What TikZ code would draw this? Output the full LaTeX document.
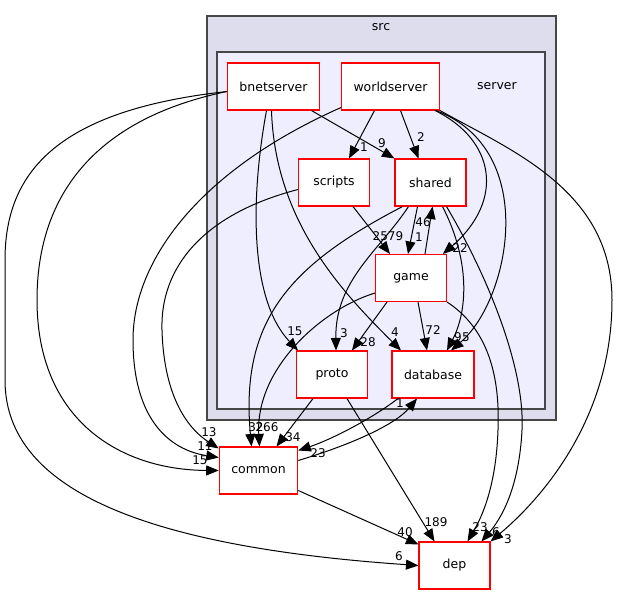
\documentclass[tikz,border=0pt]{standalone}
\usepackage{fontspec}
\setmainfont{DejaVu Sans}
\usepackage{tikz}
\usepackage{xcolor}
\definecolor{srcfill}{HTML}{DDDDEE}
\definecolor{serverfill}{HTML}{EEEEFF}
\definecolor{boxred}{HTML}{FF0000}
\usetikzlibrary{arrows.meta}
\tikzset{>={Triangle[length=12.5pt,width=10pt]}}
\tikzset{
  dirbox/.style={
    draw=boxred, fill=white, line width=1.1pt,
    minimum width=71pt, minimum height=47pt, inner xsep=12pt,
    font=\fontsize{12.5}{15}\selectfont
  }}
\tikzset{
  cluster/.style={
    draw=black!72, line width=1.1pt
  }}
\tikzset{
  clustertitle/.style={
    inner sep=0pt, font=\fontsize{12.5}{15}\selectfont
  }}
\tikzset{uses/.style={->, line width=1pt}}
\tikzset{count/.style={inner sep=0pt, font=\fontsize{12}{14}\selectfont}}

\begin{document}
\begin{tikzpicture}[x=1pt,y=-1pt]
    \useasboundingbox (0,0) rectangle (619,596);
    \draw[cluster,fill=srcfill] (207,16) rectangle (556,420);
    \node[clustertitle] (srctitle) at (381,27) {src};
    \draw[cluster,fill=serverfill] (217,52) rectangle (545,409);
    \node[clustertitle] (servertitle) at (497,86) {server};

    \node[dirbox] (bnet) at (273.5,86.5) {bnetserver};
    \node[dirbox] (world) at (390.5,86.5) {worldserver};
    \node[dirbox] (scripts) at (334,182.5) {scripts};
    \node[dirbox] (shared) at (430.5,182.5) {shared};
    \node[dirbox] (game) at (411,278) {game};
    \node[dirbox] (proto) at (332,374.5) {proto};
    \node[dirbox] (database) at (433,374.5) {database};
    \node[dirbox] (common) at (258.5,470.5) {common};
    \node[dirbox] (dep) at (454.5,565.5) {dep};

    \draw[uses] ([xshift=-16]world.south) -- ([xshift=15]scripts.north)
        node[count] (lws) at (364,147) {1};
    \draw[uses] ([xshift=38]bnet.south) -- (shared.north west)
        node[count] (lbsh) at (382,143) {9};
    \draw[uses] ([xshift=10]world.south) -- ([xshift=-12]shared.north)
        node[count] (lwsh) at (421,137) {2};
    \draw[uses] ([xshift=19]scripts.south) -- ([xshift=-21]game.north)
        node[count] (lsg) at (388,236) {2579};
    \draw[uses] ([xshift=-13]shared.south) -- ([xshift=-3]game.north)
        node[count] (lshg) at (419,237) {1};
    \draw[uses] ([xshift=14]game.north) -- ([xshift=2]shared.south)
        node[count] (lgsh) at (423,222) {46};
    \draw[uses] ([xshift=-5]world.south east) .. controls (495,140) and (505,200) .. ([xshift=32]game.north)
        node[count] (lwg) at (460,248) {22};

    \draw[uses] ([xshift=7]game.south) -- ([xshift=-6]database.north)
        node[count] (lgd) at (433,330) {72};
    \draw[uses] ([xshift=12]shared.south) .. controls (470,260) and (468,310) .. ([xshift=14]database.north)
        node[count] (lshd) at (458,337) {9};
    \draw[uses] ([xshift=-4]world.south east) .. controls (540,150) and (510,300) .. ([xshift=18]database.north)
        node[count] (lwd) at (466,337) {5};
    \draw[uses] ([xshift=-2]bnet.south) .. controls (275,220) and (340,290) .. ([xshift=-32]database.north)
        node[count] (lbd) at (395,332) {4};

    \draw[uses] ([xshift=-7]bnet.south) .. controls (250,200) and (250,300) .. ([xshift=-34]proto.north)
        node[count] (lbp) at (295,331) {15};
    \draw[uses] ([xshift=-22]shared.south) .. controls (380,250) and (335,280) .. ([xshift=4]proto.north)
        node[count] (lshp) at (344,333) {3};
    \draw[uses] ([xshift=-24]game.south) -- ([xshift=20]proto.north)
        node[count] (lgp) at (368,342) {28};

    \draw[uses] ([xshift=-28]shared.south) .. controls (290,265) and (240,320) .. ([xshift=-7]common.north)
        node[count] (lshc) at (256,427) {32};
    \draw[uses] ([yshift=-15]game.west) .. controls (320,310) and (255,370) .. ([xshift=1]common.north)
        node[count] (lgc) at (267,427) {266};
    \draw[uses] ([xshift=-19]proto.south) -- ([xshift=18]common.north)
        node[count] (lpc) at (293,437) {34};
    \draw[uses] ([xshift=-35]database.south) .. controls (370,420) and (330,440) .. ([yshift=20]common.east)
        node[count] (ldc) at (318,453) {23};
    \draw[uses] ([yshift=10]common.east) .. controls (350,445) and (395,425) .. ([xshift=-16]database.south)
        node[count] (lcd) at (400,403) {1};
    \draw[uses] ([yshift=-5]bnet.west) .. controls (90,120) and (37,200) .. (37,300)
        .. controls (37,420) and (120,470) .. (common.west)
        node[count] (lbc) at (200,460) {15};
    \draw[uses] ([yshift=3]world.south west) .. controls (200,170) and (133,260) .. (133,340)
        .. controls (133,420) and (170,450) .. ([yshift=13]common.west)
        node[count] (lwc) at (205,446) {11};
    \draw[uses] ([yshift=-7]scripts.west) .. controls (200,215) and (160,270) .. (162,330)
        .. controls (164,400) and (190,430) .. ([yshift=-2]common.north west)
        node[count] (lsc) at (209,432) {13};

    \draw[uses] ([xshift=15]proto.south) -- ([xshift=-20]dep.north)
        node[count] (lpdep) at (436,522) {189};
    \draw[uses] ([yshift=-20]common.east) -- ([yshift=-3]dep.north west)
        node[count] (lcdep) at (405,532) {40};
    \draw[uses] ([yshift=-5]bnet.west) .. controls (60,110) and (5,170) .. (5,260) -- (5,380)
        .. controls (5,480) and (120,545) .. (dep.west)
        node[count] (lbdep) at (399,556) {6};
    \draw[uses] (game.south east) .. controls (490,330) and (500,380) .. (498,430)
        .. controls (496,490) and (480,520) .. ([xshift=13]dep.north)
        node[count] (lgdep) at (480,527) {23};
    \draw[uses] ([xshift=16]shared.south) .. controls (490,280) and (525,370) .. (522,430)
        .. controls (519,490) and (500,520) .. ([xshift=27]dep.north)
        node[count] (lshdep) at (496,532) {6};
    \draw[uses] (world.south east) .. controls (510,150) and (612,190) .. (612,300)
        .. controls (612,420) and (540,500) .. (dep.north east)
        node[count] (lwdep) at (508,539) {3};
\end{tikzpicture}
\end{document}
